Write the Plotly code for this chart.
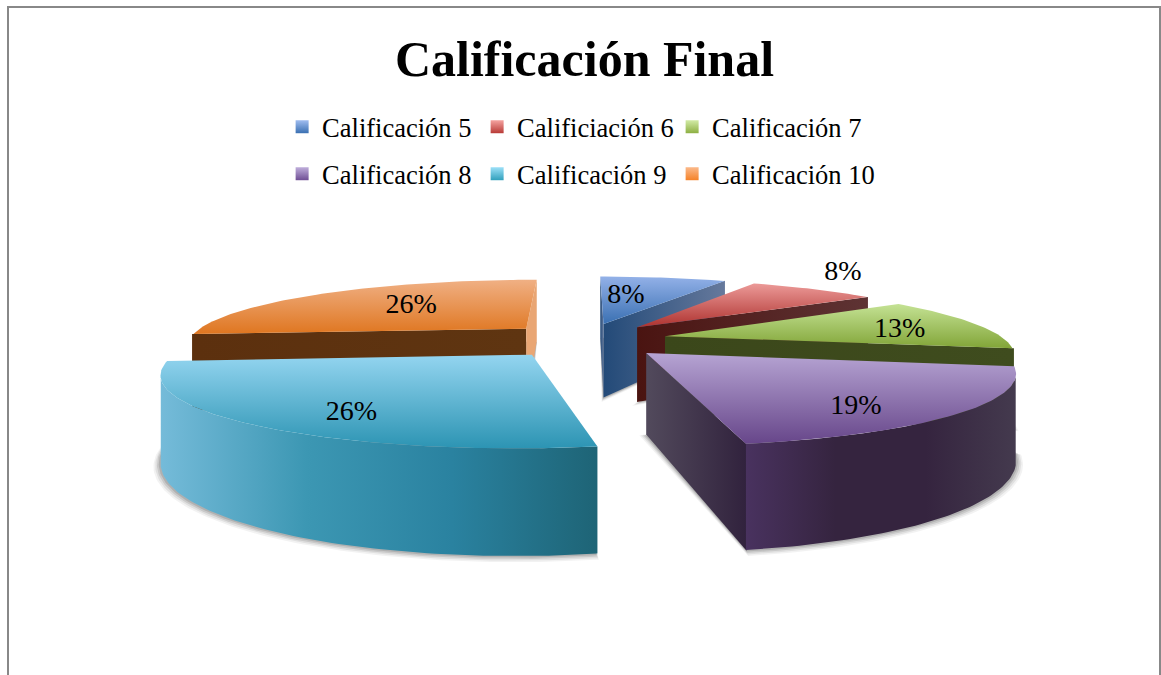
import math
import plotly.graph_objects as go

# ---- data ----
categories = ["Calificación 5", "Calificiación 6", "Calificación 7",
              "Calificación 8", "Calificación 9", "Calificación 10"]
values = [7.6, 7.6, 12.7, 19.3, 26.4, 26.4]
title_text = "Calificación Final"

# ---- styling ----
top_colors = [("#93B1E8", "#3A70B2"), ("#EC9A98", "#AE322F"), ("#C4E294", "#82A538"),
              ("#B6A4D3", "#67468A"), ("#94D5F0", "#2C94B3"), ("#F0B084", "#DF7620")]
legend_colors = [("#A0BDF0", "#3A70B2"), ("#F5A3A0", "#B83A36"), ("#D2EBA6", "#8DAF42"),
                 ("#BFAEDB", "#6F4E94"), ("#9CE0F8", "#31A0BC"), ("#FBB98A", "#F58228")]
edge_colors = [("#234A78", "#66799C"), ("#4A1411", "#5E3334"), ("#3B471A", "#3F4C1E"),
               ("#524A5C", "#31223D"), ("#2D8CAB", "#1E6476"), ("#5C300E", "#5F3511")]
back_edge_colors = ["#35598C", "#4A1411", "#3B471A", "#31223D", "#2D8CAB", "#E9A674"]
rim_colors = [["#234A78", "#234A78"], ["#4A1411", "#4A1411"], ["#3B471A", "#3B471A"],
              ["#49325F", "#35243F", "#35243F", "#443A4E"],
              ["#75BBD9", "#3C97B3", "#2A82A0", "#1E6476"], ["#5C300E", "#5C300E"]]

# projection model of the tilted pie
VX, HOR, BASE, D = 585.0, 55.0, 285.0, 1350.0
R, Y_SQUASH, EXPLODE, H = 340.0, 0.9, 83.0, 78.0
LABEL_R = [0.54, 1.41, 0.73, 0.80, 0.795, 0.58]
LABEL_DA = [-4.7, -5.0, 3.9, 8.5, -7.4, 3.8]


def project(x, yf, z=0.0):
    s = 1.0 / (1.0 - yf / D)
    return VX + x * s, HOR + (BASE + z) * s


def rim_point(ax, ay, theta, r=R):
    t = math.radians(theta)
    return ax + r * math.sin(t), ay - r * Y_SQUASH * math.cos(t)


def vscale(c0, c1):
    return [[0, c0], [1, c1]]


def scale_from(colors):
    n = len(colors) - 1
    return [[i / n, c] for i, c in enumerate(colors)]


def poly(points, gradient=None, color=None):
    xs = [p[0] for p in points] + [points[0][0]]
    ys = [p[1] for p in points] + [points[0][1]]
    kw = dict(x=xs, y=ys, mode="lines", line=dict(width=0), fill="toself",
              hoverinfo="skip", showlegend=False)
    if gradient:
        kw["fillgradient"] = gradient
    else:
        kw["fillcolor"] = color
    return go.Scatter(**kw)


total = sum(values)
slices = []
cum = 0.0
for i, v in enumerate(values):
    a0 = cum / total * 360
    cum += v
    a1 = cum / total * 360
    m = math.radians((a0 + a1) / 2)
    slices.append(dict(i=i, a0=a0, a1=a1, mid=(a0 + a1) / 2,
                       ax=EXPLODE * math.sin(m), ay=-EXPLODE * math.cos(m)))


def arc(a0, a1):
    n = max(2, int(a1 - a0))
    return [a0 + (a1 - a0) * k / n for k in range(n + 1)]


fig = go.Figure()

# soft ground shadow
for delta, alpha in [(6, 0.05), (4.5, 0.07), (3, 0.10), (1.5, 0.12)]:
    for sl in slices:
        mr = math.radians(sl["mid"])
        ax = sl["ax"] - delta * 1.5 * math.sin(mr)
        ay = sl["ay"] + delta * 1.5 * math.cos(mr)
        pts = [project(ax, ay, H + delta * 0.4)]
        for th in arc(sl["a0"], sl["a1"]):
            px, py = rim_point(sl["ax"], sl["ay"], th, R + delta)
            pts.append(project(px, py, H + delta * 0.4))
        fig.add_trace(poly(pts, color=f"rgba(0,0,0,{alpha})"))

# slices, farthest first
for sl in sorted(slices, key=lambda q: q["ay"]):
    i, ax, ay, a0, a1 = sl["i"], sl["ax"], sl["ay"], sl["a0"], sl["a1"]
    camx, camy = -ax, D - ay

    # radial walls
    for th, sign in ((a0, -1), (a1, 1)):
        t = math.radians(th + sign * 90)
        if math.sin(t) * camx - math.cos(t) * camy > 0:
            px, py = rim_point(ax, ay, th, R + 1.5)
            pts = [project(ax, ay), project(px, py), project(px, py, H), project(ax, ay, H)]
            if sign == 1 and i == 5:
                fig.add_trace(poly(pts, color=back_edge_colors[i]))
            else:
                fig.add_trace(poly(pts, gradient=dict(type="horizontal",
                              colorscale=vscale(*edge_colors[i]))))

    # rim wall
    run = []
    for th in arc(a0, a1):
        px, py = rim_point(ax, ay, th)
        t = math.radians(th)
        if math.sin(t) * (-px) - math.cos(t) * (D - py) > 0:
            run.append((px, py))
    if len(run) > 1:
        pts = [project(x, y) for x, y in run] + [project(x, y, H) for x, y in reversed(run)]
        fig.add_trace(poly(pts, gradient=dict(type="horizontal",
                      colorscale=scale_from(rim_colors[i]))))

    # top face (the reversed y axis flips the gradient direction)
    pts = [project(ax, ay)] + [project(*rim_point(ax, ay, th)) for th in arc(a0, a1)]
    fig.add_trace(poly(pts, gradient=dict(type="vertical",
                  colorscale=vscale(top_colors[i][1], top_colors[i][0]))))

# percentage labels
lx, ly, lt = [], [], []
for sl in slices:
    px, py = rim_point(sl["ax"], sl["ay"], sl["mid"] + LABEL_DA[sl["i"]], R * LABEL_R[sl["i"]])
    x, y = project(px, py)
    lx.append(x)
    ly.append(y)
    lt.append(f"{round(values[sl['i']] / total * 100)}%")
fig.add_trace(go.Scatter(x=lx, y=ly, text=lt, mode="text", showlegend=False, hoverinfo="skip",
                         textfont=dict(family="Liberation Serif", size=28, color="#000000")))

# legend entries: the last one has its own legend so its longer text is not clipped
legend_names = ["legend", "legend", "legend", "legend2", "legend2", "legend3"]
for i, name in enumerate(categories):
    fig.add_trace(go.Scatter(x=[None], y=[None], mode="markers", name=name,
                             legend=legend_names[i],
                             marker=dict(symbol="square", size=13, color=legend_colors[i][0],
                                         gradient=dict(type="vertical", color=legend_colors[i][1]))))

legend_style = dict(orientation="h", xanchor="left", yanchor="middle",
                    font=dict(family="Liberation Serif", size=26.5, color="#000000"),
                    entrywidth=150, entrywidthmode="pixels", bgcolor="rgba(0,0,0,0)",
                    itemclick=False, itemdoubleclick=False, traceorder="normal")
last_legend_style = {**legend_style, "entrywidth": 190}

fig.update_layout(
    width=1161, height=675, margin=dict(l=0, r=0, t=0, b=0),
    paper_bgcolor="#FFFFFF", plot_bgcolor="#FFFFFF",
    xaxis=dict(range=[0, 1161], visible=False, fixedrange=True),
    yaxis=dict(range=[675, 0], visible=False, fixedrange=True),
    title=dict(text=f"<b>{title_text}</b>", x=584.5 / 1161, xanchor="center", yref="container",
               y=1 - 58 / 675, yanchor="middle",
               font=dict(family="Liberation Serif", size=50, color="#000000")),
    legend=dict(x=0.243, y=1 - 127 / 675, **legend_style),
    legend2=dict(x=0.243, y=1 - 174 / 675, **legend_style),
    legend3=dict(x=0.243 + 390 / 1161, y=1 - 174 / 675, **last_legend_style),
    shapes=[dict(type="rect", xref="x", yref="y", x0=8, y0=7, x1=1160, y1=720,
                 line=dict(color="#888888", width=2), layer="above")],
)

fig.write_html("out.html", config={"displayModeBar": False},
               post_script="document.body.style.margin='0';document.body.style.overflow='hidden';")
